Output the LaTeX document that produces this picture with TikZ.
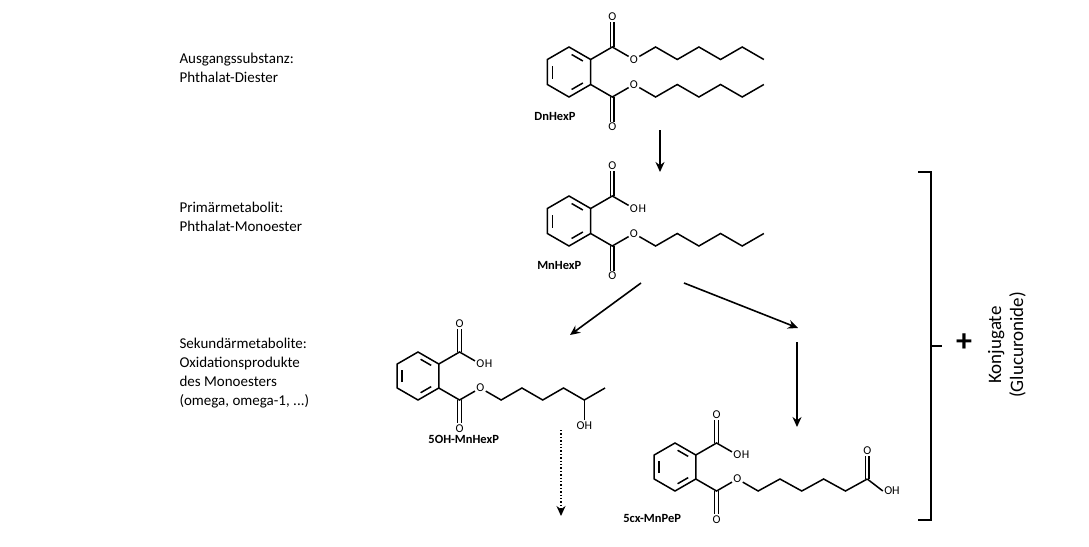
\documentclass[tikz,border=0pt]{standalone}
\usepackage{fontspec}
\setmainfont{Carlito}
\usetikzlibrary{calc,arrows.meta}
\tikzset{
  mol/.style n args={3}{shift={(#1,#2)}, x={(0.866*#3 pt,0pt)}, y={(0pt,-0.5*#3 pt)}},
  bond/.style={line width=1.5pt, line join=miter},
  thin/.style={line width=1.2pt},
  atom/.style={inner sep=1.2pt, font=\fontsize{12}{13}\selectfont},
  mlabel/.style={font=\bfseries\fontsize{12.5}{13}\selectfont},
  stage/.style={align=left, anchor=north west, font=\fontsize{15}{19}\selectfont},
  arr/.style={line width=1.6pt, -{Stealth[length=10pt,width=9pt]}},
}
\newcommand\dblv[2]{%
  \draw[thin] ([xshift=-1.7pt]#1) -- ([xshift=-1.7pt]#2);
  \draw[thin] ([xshift=1.7pt]#1) -- ([xshift=1.7pt]#2);}
\newcommand\phth[1]{%
  \coordinate (#1v1) at (0,-2); \coordinate (#1v2) at (1,-1); \coordinate (#1v3) at (1,1);
  \coordinate (#1v4) at (0,2); \coordinate (#1v5) at (-1,1); \coordinate (#1v6) at (-1,-1);
  \coordinate (#1m) at (0,0);
  \draw[bond] (#1v1)--(#1v2)--(#1v3)--(#1v4)--(#1v5)--(#1v6)--cycle;
  \draw[bond,shorten <=3pt,shorten >=3pt] ($(#1m)!0.76!(#1v1)$)--($(#1m)!0.76!(#1v2)$);
  \draw[bond,shorten <=3pt,shorten >=3pt] ($(#1m)!0.76!(#1v3)$)--($(#1m)!0.76!(#1v4)$);
  \draw[bond,shorten <=3pt,shorten >=3pt] ($(#1m)!0.76!(#1v5)$)--($(#1m)!0.76!(#1v6)$);
  \coordinate (#1ca) at (2,-2); \coordinate (#1cb) at (2,2);
  \node[atom] (#1oa) at (2,-4.4) {O}; \node[atom] (#1ob) at (2,4.4) {O};
  \node[atom] (#1ea) at (3,-1) {O}; \node[atom] (#1eb) at (3,1) {O};
  \draw[bond] (#1v2)--(#1ca)--(#1ea); \draw[bond] (#1v3)--(#1cb)--(#1eb);
  \dblv{#1ca}{#1oa.south}\dblv{#1cb}{#1ob.north}
}
\begin{document}
\begin{tikzpicture}[x=1pt,y=-1pt]
\path[use as bounding box,fill=white] (0,0) rectangle (1089,546);
\node[stage] (s1) at (176,50) {Ausgangssubstanz:\\Phthalat-Diester};
\node[stage] (s2) at (176,199) {Primärmetabolit:\\Phthalat-Monoester};
\node[stage] (s3) at (176,335) {Sekundärmetabolite:\\Oxidationsprodukte\\des Monoesters\\(omega, omega-1, ...)};
% DnHexP
\begin{scope}[mol={569}{72}{25}]
  \phth{A}
  \draw[bond] (Aea)--(4,-2)--(5,-1)--(6,-2)--(7,-1)--(8,-2)--(9,-1);
  \draw[bond] (Aeb)--(4,2)--(5,1)--(6,2)--(7,1)--(8,2)--(9,1);
  \node[mlabel] (An) at (-0.65,3.55) {DnHexP};
\end{scope}
% MnHexP
\begin{scope}[mol={569}{221}{25}]
  \phth{B}
  \node[atom,anchor=west,inner sep=0pt,xshift=-1pt] (Bh) at (Bea.east) {H};
  \draw[bond] (Beb)--(4,2)--(5,1)--(6,2)--(7,1)--(8,2)--(9,1);
  \node[mlabel] (Bn) at (-0.45,3.55) {MnHexP};
\end{scope}
% 5OH-MnHexP
\begin{scope}[mol={418}{376}{24}]
  \phth{C}
  \node[atom,anchor=west,inner sep=0pt,xshift=-1pt] (Ch) at (Cea.east) {H};
  \draw[bond] (Ceb)--(4,2)--(5,1)--(6,2)--(7,1)--(8,2) coordinate (C5)--(9,1);
  \node[atom] (Coh) at (8,4.1) {OH};
  \draw[bond] (C5)--(Coh);
  \node[mlabel] (Cn) at (2.2,5.3) {5OH-MnHexP};
\end{scope}
% 5cx-MnPeP
\begin{scope}[mol={675}{467}{24}]
  \phth{D}
  \node[atom,anchor=west,inner sep=0pt,xshift=-1pt] (Dh) at (Dea.east) {H};
  \draw[bond] (Deb)--(4,2)--(5.05,1)--(6.1,2)--(7.15,1)--(8.2,2)--(9.25,1) coordinate (D6);
  \node[atom] (Dox) at (9.25,-1.4) {O};
  \node[atom,anchor=west] (Doh) at (10,2) {OH};
  \dblv{D6}{Dox.south}
  \draw[bond] (D6)--(Doh.west);
  \node[mlabel] (Dn) at (-1.1,4.25) {5cx-MnPeP};
\end{scope}
% arrows
\coordinate (a1s) at (660,130); \coordinate (a1e) at (660,172);
\draw[arr] (a1s)--(a1e);
\coordinate (a2s) at (641,283); \coordinate (a2e) at (570,335);
\draw[arr] (a2s)--(a2e);
\coordinate (a3s) at (684,283); \coordinate (a3e) at (798,328);
\draw[arr] (a3s)--(a3e);
\coordinate (a4s) at (797,342); \coordinate (a4e) at (797,427);
\draw[arr] (a4s)--(a4e);
\coordinate (a5s) at (561,430); \coordinate (a5e) at (561,516);
\draw[line width=1.4pt, dotted, -{Stealth[length=10pt,width=9pt]}] (a5s)--(a5e);
% bracket
\coordinate (b1) at (918,172); \coordinate (b2) at (931,172);
\coordinate (b3) at (931,520); \coordinate (b4) at (918,520);
\coordinate (bm) at (931,346); \coordinate (bm2) at (942,346);
\draw[line width=1.6pt] (b1)--(b2)--(b3)--(b4);
\draw[line width=1.6pt] (bm)--(bm2);
\node[font=\fontsize{32}{32}\selectfont\bfseries] (plus) at (964,343) {+};
\node[rotate=90, align=center, font=\fontsize{19}{22}\selectfont] (konj) at (1007,345) {Konjugate\\(Glucuronide)};
\end{tikzpicture}
\end{document}
